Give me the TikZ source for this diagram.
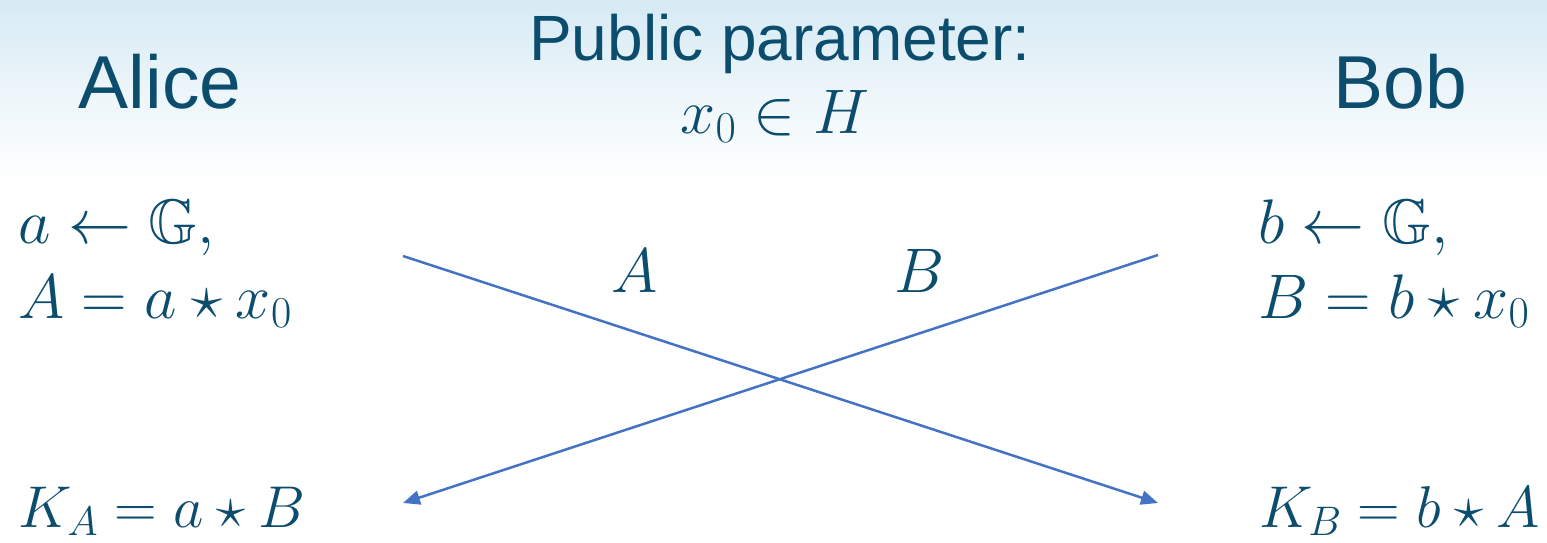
\RequirePackage{fix-cm}
\documentclass[tikz,border=0pt]{standalone}
\usepackage{amssymb}
\usepackage{fontspec}
\newfontfamily\arialfont{Liberation Sans}
\usetikzlibrary{arrows.meta}
\definecolor{txt}{HTML}{0C4D6E}
\definecolor{arr}{HTML}{4472C4}
\definecolor{sky}{RGB}{214,234,244}
\tikzset{
  title/.style={text=txt, inner sep=0pt, font=\arialfont\fontsize{75}{80}\selectfont},
  pub/.style={text=txt, inner sep=0pt, font=\arialfont\fontsize{64}{70}\selectfont},
  mth/.style={text=txt, inner sep=0pt, font=\fontsize{63}{70}\selectfont},
  mthk/.style={text=txt, inner sep=0pt, font=\fontsize{59}{66}\selectfont},
  msg/.style={arr, line width=2.5pt, -{Triangle[length=17pt,width=14pt]}}
}
\begin{document}
\begin{tikzpicture}[x=1pt,y=-1pt]
\useasboundingbox (0,0) rectangle (1547,543);
\fill[white] (0,0) rectangle (1547,543);
\shade[top color=sky, bottom color=white, middle color=sky!45] (0,0) rectangle (1547,185);

\node[title, anchor=base] (alice) at (160,108) {Alice};
\node[title, anchor=base] (bob) at (1400,108) {Bob};
\node[pub, anchor=base] (pub) at (780,60) {Public parameter:};
\node[mth, anchor=base] (x0) at (775,133) {$x_0\in H$};

\node[mth, anchor=base west] (a1) at (18,243) {$a\leftarrow \mathbb{G},$};
\node[mth, anchor=base west] (a2) at (18,318) {$A=a\star x_0$};
\node[mthk, anchor=base west] (ka) at (18,527) {$K_A=a\star B$};

\node[mth, anchor=base west] (b1) at (1258,243) {$b\leftarrow \mathbb{G},$};
\node[mth, anchor=base west] (b2) at (1258,318) {$B=b\star x_0$};
\node[mthk, anchor=base east] (kb) at (1540,527) {$K_B=b\star A$};

\node[mth, anchor=base] (mA) at (635,292) {$A$};
\node[mth, anchor=base] (mB) at (920,292) {$B$};

\coordinate (as) at (403,256);
\coordinate (ae) at (1158,503);
\coordinate (bs) at (1158,255);
\coordinate (be) at (403,503);
\draw[msg] (as) -- (ae);
\draw[msg] (bs) -- (be);
\end{tikzpicture}
\end{document}
